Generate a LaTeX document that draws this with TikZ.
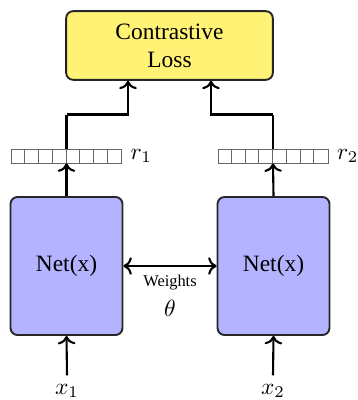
\documentclass[tikz,border=0pt]{standalone}
\usepackage{fontspec}
\setmainfont{Liberation Serif}
\usepackage{tikz}
\usetikzlibrary{positioning,calc,arrows.meta}

\definecolor{lossyellow}{RGB}{255,242,117}
\definecolor{netblue}{RGB}{179,179,255}

\tikzset{
    lossbox/.style={draw=black!85, fill=lossyellow, rounded corners=3pt, align=center,
        minimum width=3.1cm, minimum height=1.03cm, inner sep=2pt},
    netbox/.style={draw=black!85, fill=netblue, rounded corners=3pt,
        minimum width=1.68cm, minimum height=2.07cm},
    vecbox/.style={draw=black!60, thin, minimum width=1.65cm, minimum height=0.21cm, inner sep=0pt},
    link/.style={line width=0.9pt, ->}
}

\begin{document}
\begin{tikzpicture}[x=0.015cm, y=-0.015cm, thick]
    \useasboundingbox (0,0) rectangle (358,400);

    % Loss
    \node[lossbox] (loss) at (169.5,45.5) {Contrastive\\Loss};
    \coordinate (lossinL) at ($(loss.south)+(-41.5,0)$);
    \coordinate (lossinR) at ($(loss.south)+(41.5,0)$);

    % Twin nets
    \node[netbox] (netL) at (66.5,266) {Net(x)};
    \node[netbox] (netR) at (273.5,266) {Net(x)};

    % Representations
    \node[vecbox] (vecL) at (66.5,156) {};
    \node[vecbox] (vecR) at (273,156) {};
    \foreach \v in {vecL,vecR}
        \foreach \i in {1,...,7}
            \draw[black!60, thin] ($(\v.north west)+(\i*13.75,0)$) -- ++(0,14);
    \node[right=0pt of vecL] (rL) {$r_1$};
    \node[right=0pt of vecR] (rR) {$r_2$};
    \coordinate (bendL) at ($(vecL.north)+(0,-34)$);
    \coordinate (bendR) at ($(vecR.north)+(0,-34)$);

    % Inputs
    \node (inL) at (67,391) {$x_1$};
    \node (inR) at (273,391) {$x_2$};
    \draw[link] (inL.north) -- (netL.south);
    \draw[link] (inR.north) -- (netR.south);

    % Nets to loss
    \draw[link] (netL.north) -- (vecL.south);
    \draw[link] (netR.north) -- (vecR.south);
    \draw[line width=0.9pt] (vecL.north) -- (bendL);
    \draw[line width=0.9pt] (vecR.north) -- (bendR);
    \draw[link] (bendL) -| (lossinL);
    \draw[link] (bendR) -| (lossinR);

    % Shared weights
    \draw[link, <->] (netL) -- (netR)
        node[midway, below, align=center] {{\scriptsize Weights}\\[1pt]$\theta$};
\end{tikzpicture}
\end{document}
